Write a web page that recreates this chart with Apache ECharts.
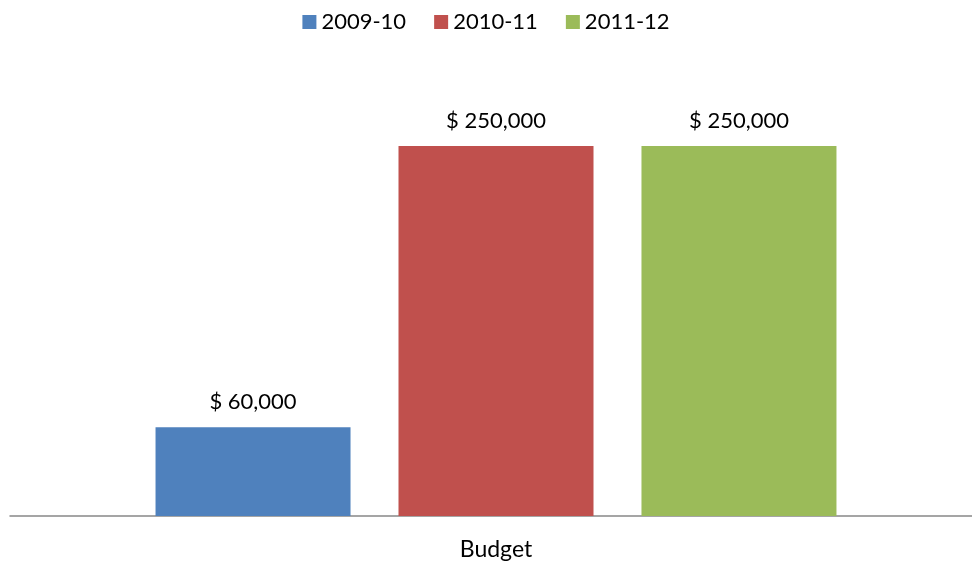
<!DOCTYPE html>
<html><head><meta charset="utf-8">
<script src="https://cdn.jsdelivr.net/npm/echarts@6/dist/echarts.min.js"></script>
<style>html,body{margin:0;padding:0;background:#fff}#c{width:972px;height:567px}</style>
</head><body><div id="c"></div>
<script>
const categories = ['Budget'];
const seriesNames = ['2009-10', '2010-11', '2011-12'];
const values2009 = [60000];
const values2010 = [250000];
const values2011 = [250000];
const colors = ['#4F81BD', '#C0504D', '#9BBB59'];
const font = 'Lato, "Open Sans", sans-serif';
const fmt = v => '$ ' + v.toLocaleString('en-US');
const dataSets = [values2009, values2010, values2011];
const chart = echarts.init(document.getElementById('c'));
chart.setOption({
  animation: false,
  textStyle: { fontFamily: font },
  legend: {
    top: 6, left: 'center', itemWidth: 14, itemHeight: 14, itemGap: 28,
    icon: 'rect',
    textStyle: { fontSize: 22, color: '#000', fontFamily: font },
    data: seriesNames
  },
  grid: { left: 10, right: -10, top: 72, bottom: 51, outerBoundsMode: 'none', containLabel: false },
  xAxis: {
    type: 'category', data: categories,
    axisLine: { lineStyle: { color: '#888', width: 1.5 } },
    axisTick: { show: false },
    axisLabel: { fontSize: 23, color: '#000', margin: 22, fontFamily: font }
  },
  yAxis: {
    type: 'value', min: 0, max: 300000, show: false,
    splitLine: { show: false }
  },
  series: seriesNames.map((n, i) => ({
    name: n, type: 'bar', data: dataSets[i],
    barWidth: 195, barGap: '24.6%',
    itemStyle: { color: colors[i] },
    label: {
      show: true, position: 'top', distance: 14,
      fontSize: 22, color: '#000', fontFamily: font,
      formatter: p => fmt(p.value)
    }
  }))
});
</script></body></html>
